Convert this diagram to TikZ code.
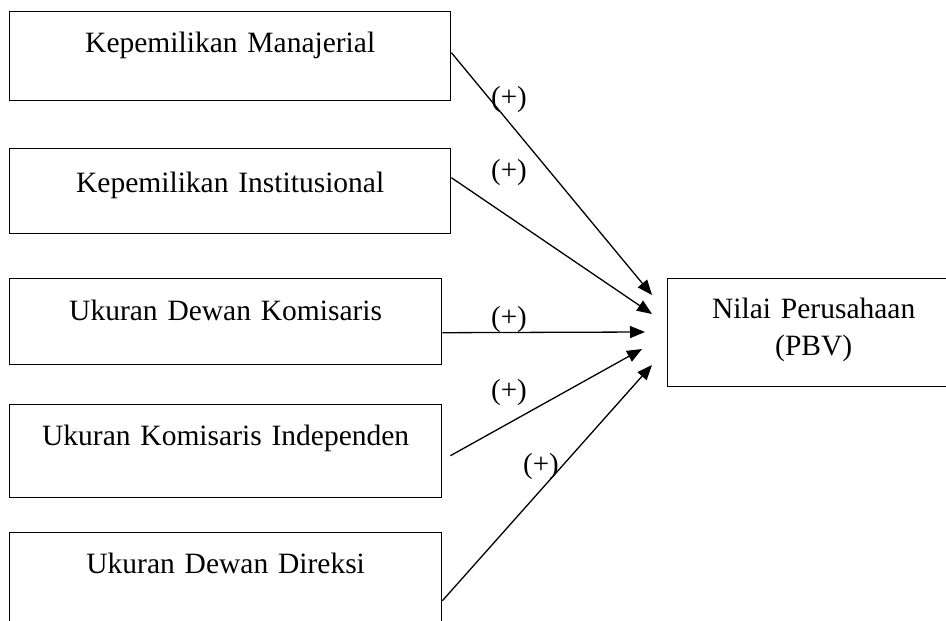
\documentclass[tikz,border=0pt]{standalone}
\usepackage{fontspec}
\setmainfont[WordSpace=0.8]{Liberation Serif}
\usetikzlibrary{arrows.meta}

\tikzset{
  varbox/.style={draw, line width=1.4pt, inner sep=0pt, anchor=north west, align=center,
    font=\fontsize{29.5}{37}\selectfont},
  effect/.style={line width=1.3pt, -{Triangle[length=15pt,width=12pt]}},
  sign/.style={font=\fontsize{29}{34}\selectfont, inner sep=0pt}
}

\begin{document}
\begin{tikzpicture}[x=1pt, y=-1pt]
                        \useasboundingbox (0,0) rectangle (946,621);
                        \clip (0,0) rectangle (946,621);

                        \node[varbox, text width=441pt, text height=41pt, text depth=48pt] (mgr) at (9,11) {Kepemilikan Manajerial};
                        \node[varbox, text width=441pt, text height=44pt, text depth=41pt] (ins) at (9,148) {Kepemilikan Institusional};
                        \node[varbox, text width=432pt, text height=42pt, text depth=44pt] (dk) at (9,278) {Ukuran Dewan Komisaris};
                        \node[varbox, text width=432pt, text height=41pt, text depth=52pt] (ki) at (9,404) {Ukuran Komisaris Independen\hspace*{30pt}};
                        \node[varbox, text width=432pt, text height=41pt, text depth=51pt] (dd) at (9,532) {Ukuran Dewan Direksi};

                        \node[varbox, text width=292pt, text height=40pt, text depth=68pt] (pbv) at (667,278) {Nilai Perusahaan\\(PBV)};

                        \coordinate (t1) at (652,295);
                        \coordinate (t2) at (652,314);
                        \coordinate (t3) at (645,332);
                        \coordinate (t4) at (642,349);
                        \coordinate (t5) at (652,365);

                        \draw[effect] ([yshift=3.5pt]mgr.east) -- (t1);
                        \draw[effect] ([yshift=13.5pt]ins.east) -- (t2);
                        \draw[effect] ([yshift=-11pt]dk.east) -- (t3);
                        \draw[effect] ([xshift=8pt,yshift=-4.5pt]ki.east) -- (t4);
                        \draw[effect] ([yshift=-22pt]dd.east) -- (t5);

                        \node[sign] (s1) at (509,100) {(+)};
                        \node[sign] (s2) at (509,173) {(+)};
                        \node[sign] (s3) at (509,320) {(+)};
                        \node[sign] (s4) at (509,393) {(+)};
                        \node[sign] (s5) at (541,467) {(+)};
                    \end{tikzpicture}
\end{document}
